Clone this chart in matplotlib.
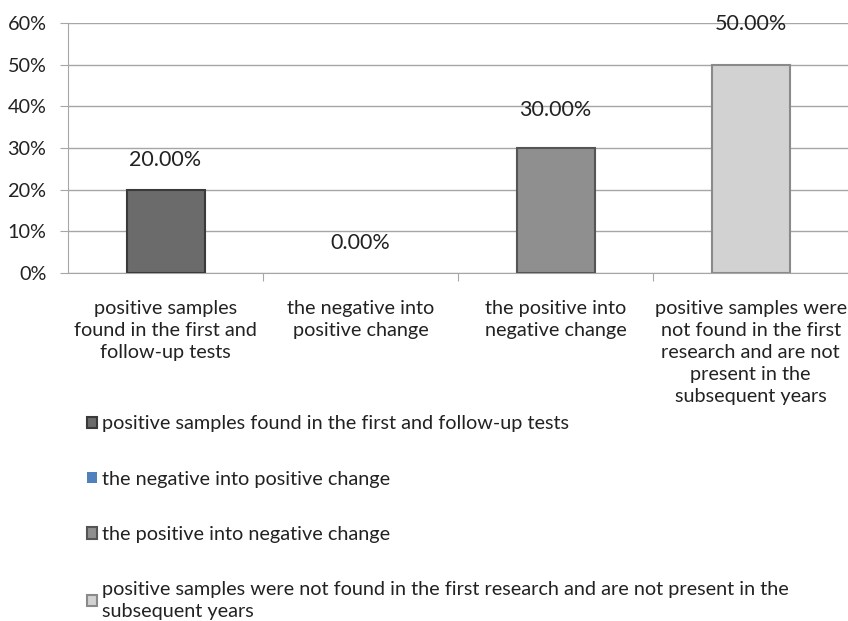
import numpy as np
import matplotlib
matplotlib.use('Agg')
from matplotlib import pyplot as plt
from matplotlib.ticker import PercentFormatter

plt.rcParams['font.family'] = ['Lato', 'DejaVu Sans']

categories = ['positive samples\nfound in the first and\nfollow-up tests',
              'the negative into\npositive change',
              'the positive into\nnegative change',
              'positive samples were\nnot found in the first\nresearch and are not\npresent in the\nsubsequent years']
legend_labels = ['positive samples found in the first and follow-up tests',
                 'the negative into positive change',
                 'the positive into negative change',
                 'positive samples were not found in the first research and are not present in the\nsubsequent years']
values = [0.20, 0.00, 0.30, 0.50]
bar_labels = ['20.00%', '0.00%', '30.00%', '50.00%']
colors = ['#6b6b6b', '#4f81bd', '#8f8f8f', '#d2d2d2']
edges = ['#3a3a3a', '#2c4d75', '#555555', '#8a8a8a']
label_offsets = [21.5, 21.5, 27.5, 29]  # points above the bar top

fs = 14.3
fig = plt.figure(figsize=(8.48, 6.21), dpi=100)
ax = fig.add_axes([0.0802, 0.5604, 0.92, 0.4026])

x = np.arange(len(values))
for i in range(len(values)):
    lw = 1.5 if values[i] > 0 else 0
    ax.bar(x[i], values[i], width=0.4, color=colors[i], edgecolor=edges[i],
           linewidth=lw, label=legend_labels[i], zorder=3)
    # value label above the bar
    ax.annotate(bar_labels[i], (x[i], values[i]), xytext=(0, label_offsets[i]),
                textcoords='offset points', ha='center', va='center',
                fontsize=15.5, color='#222222', zorder=4)

ax.set_xlim(-0.5, 3.5)
ax.set_ylim(0, 0.6)
ax.set_yticks(np.arange(0, 0.61, 0.1))
ax.yaxis.set_major_formatter(PercentFormatter(1.0, decimals=0))
ax.yaxis.grid(True, color='#a6a6a6', linewidth=1)
ax.set_axisbelow(True)

ax.set_xticks([0.5, 1.5, 2.5])
ax.set_xticklabels([])
ax.set_xticks(x, minor=True)
ax.set_xticklabels(categories, minor=True, fontsize=fs, color='#222222', linespacing=1.36)
ax.tick_params(axis='x', which='minor', length=0, pad=19.5)
ax.tick_params(axis='x', which='major', length=6, color='#a6a6a6', direction='out')
ax.tick_params(axis='y', length=6, color='#a6a6a6', labelsize=fs, labelcolor='#222222', pad=9.5)

for s in ['top', 'right']:
    ax.spines[s].set_visible(False)
ax.spines['left'].set_color('#a6a6a6')
ax.spines['bottom'].set_color('#a6a6a6')

leg = fig.legend(loc='upper left', bbox_to_anchor=(0.103, 0.331), frameon=False,
                 fontsize=fs, handlelength=0.5, handleheight=0.5, handletextpad=0.25,
                 labelspacing=1.93, borderaxespad=0, borderpad=0, labelcolor='#222222')
for t in leg.get_texts():
    t.set_linespacing(1.3)

plt.savefig('out.png', dpi=100)
